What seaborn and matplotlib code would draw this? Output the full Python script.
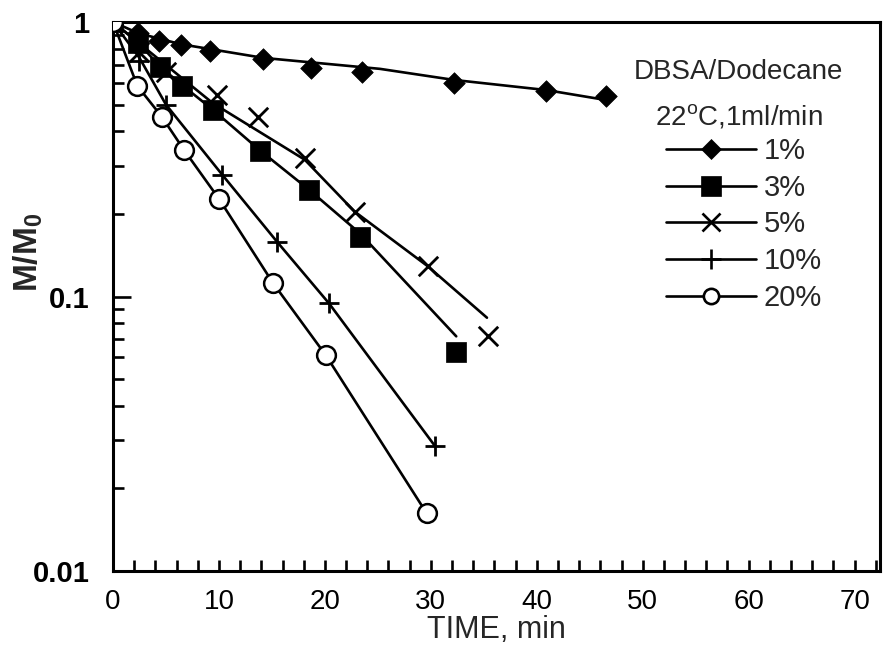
import numpy as np
import pandas as pd
import matplotlib
matplotlib.use("Agg")
import matplotlib.pyplot as plt
from matplotlib.lines import Line2D
from matplotlib.ticker import LogLocator, FixedLocator, MultipleLocator, NullFormatter
import seaborn as sns

sns.set_style("ticks")
plt.rcParams['font.family'] = ['Liberation Sans', 'DejaVu Sans']
plt.rcParams['mathtext.default'] = 'regular'

# ---- data ----
labels = ["1%", "3%", "5%", "10%", "20%"]

# measured points
t_1 = [0, 2.4, 4.3, 6.4, 9.2, 14.2, 18.7, 23.5, 32.2, 40.9, 46.5]
m_1 = [1.0, 0.91, 0.853, 0.825, 0.784, 0.734, 0.681, 0.658, 0.600, 0.561, 0.538]
t_3 = [0, 2.4, 4.4, 6.5, 9.4, 13.9, 18.5, 23.3, 32.4]
m_3 = [1.0, 0.839, 0.686, 0.585, 0.479, 0.340, 0.245, 0.165, 0.063]
t_5 = [0, 2.5, 5.0, 9.8, 13.7, 18.1, 22.8, 29.7, 35.4]
m_5 = [1.0, 0.78, 0.66, 0.543, 0.452, 0.320, 0.204, 0.129, 0.0716]
t_10 = [0, 2.5, 5.0, 10.3, 15.5, 20.4, 30.4]
m_10 = [1.0, 0.72, 0.50, 0.278, 0.158, 0.0943, 0.0285]
t_20 = [0, 2.3, 4.6, 6.7, 10.0, 15.1, 20.1, 29.6]
m_20 = [1.0, 0.585, 0.452, 0.342, 0.227, 0.112, 0.061, 0.01625]

# fitted curves drawn through the data
ft_1 = [0, 2.4, 6.4, 14.2, 25.2, 32.2, 40.9, 46.5]
fm_1 = [1.0, 0.91, 0.83, 0.74, 0.675, 0.615, 0.565, 0.52]
ft_3 = [0, 2.4, 4.4, 6.5, 9.4, 13.9, 18.5, 23.3, 32.4]
fm_3 = [1.0, 0.84, 0.69, 0.59, 0.48, 0.34, 0.245, 0.17, 0.0716]
ft_5 = [0, 9.4, 18.1, 22.8, 29.7, 35.3]
fm_5 = [1.0, 0.507, 0.315, 0.204, 0.129, 0.0837]
ft_10 = [0, 2.5, 5.0, 10.3, 15.5, 20.4, 30.4]
fm_10 = [1.0, 0.74, 0.50, 0.278, 0.158, 0.0943, 0.0285]
ft_20 = [0, 2.3, 4.6, 6.7, 10.0, 15.1, 20.1, 29.6]
fm_20 = [1.0, 0.585, 0.452, 0.342, 0.227, 0.112, 0.061, 0.01625]

x_ticks = [0, 10, 20, 30, 40, 50, 60, 70]
y_ticks = [0.01, 0.1, 1]
y_ticklabels = ["0.01", "0.1", "1"]

points = [(t_1, m_1), (t_3, m_3), (t_5, m_5), (t_10, m_10), (t_20, m_20)]
fits = [(ft_1, fm_1), (ft_3, fm_3), (ft_5, fm_5), (ft_10, fm_10), (ft_20, fm_20)]

# styles
markers = ["D", "s", "x", "+", "o"]
msizes = [11, 14.5, 14, 15, 13.5]
faces = ["black", "black", "black", "black", "white"]

fig = plt.figure(figsize=(8.85, 6.46), dpi=100)
ax = fig.add_axes([113 / 885, 75 / 646, 767 / 885, 549 / 646])

for lab, (ft, fm), (t, m), mk, ms, fc in zip(labels, fits, points, markers, msizes, faces):
    sns.lineplot(x=ft, y=fm, ax=ax, color="black", lw=1.9, sort=False,
                 estimator=None, zorder=2)
    kw = dict(marker=mk, s=ms ** 2, zorder=3, ax=ax)
    if mk in ("x", "+"):
        sns.scatterplot(x=t, y=m, color="black", linewidth=2.0, **kw)
    else:
        sns.scatterplot(x=t, y=m, facecolor=fc, edgecolor="black",
                        linewidth=1.8 if mk == "o" else 0.5, **kw)

ax.set_yscale("log")
ax.set_xlim(0, 72.4)
ax.set_ylim(0.01, 1)

ax.xaxis.set_major_locator(FixedLocator(x_ticks))
ax.xaxis.set_minor_locator(MultipleLocator(2))
ax.set_xticklabels([str(v) for v in x_ticks], fontsize=20)
ax.yaxis.set_major_locator(FixedLocator(y_ticks))
ax.yaxis.set_minor_locator(LogLocator(base=10, subs=np.arange(2, 10)))
ax.yaxis.set_minor_formatter(NullFormatter())
ax.set_yticklabels(y_ticklabels, fontsize=21, fontweight="bold")

ax.tick_params(axis="both", which="both", direction="in", width=1.9,
               top=False, right=False, colors="black")
ax.tick_params(axis="x", which="major", length=8, pad=13)
ax.tick_params(axis="x", which="minor", length=8)
ax.tick_params(axis="y", which="major", length=13, pad=17)
ax.tick_params(axis="y", which="minor", length=8)

for sp in ax.spines.values():
    sp.set_linewidth(2.2)
    sp.set_color("black")
    sp.set_visible(True)

ax.set_xlabel("TIME, min", fontsize=22, labelpad=0)
ax.set_ylabel(r"M/M$_0$", fontsize=24, fontweight="bold")
ax.yaxis.set_label_coords((45 - 113) / 767, (571 - 252) / 549)

# legend
handles = []
for mk, ms, fc in zip(markers, [10, 14, 13, 14, 11], faces):
    handles.append(Line2D([], [], color="black", lw=1.9, marker=mk, markersize=ms,
                          markerfacecolor=fc, markeredgecolor="black",
                          markeredgewidth=1.9 if mk in ("x", "+", "o") else 0.5))
ax.text(738 / 885, 1 - 72 / 646, "DBSA/Dodecane", transform=fig.transFigure,
        ha="center", va="center", fontsize=20)
ax.text(739 / 885, 1 - 117 / 646, r"22$^{o}$C,1ml/min", transform=fig.transFigure,
        ha="center", va="center", fontsize=20)
leg = ax.legend(handles, labels, loc="upper left",
                bbox_to_anchor=(666 / 885, 1 - 137 / 646),
                bbox_transform=fig.transFigure, frameon=False,
                fontsize=21, handlelength=3.1, handletextpad=0.25,
                labelspacing=0.3, borderpad=0, borderaxespad=0)
for line in leg.get_lines():
    line.set_linewidth(1.9)

fig.savefig("out.png", dpi=100, facecolor="white")
